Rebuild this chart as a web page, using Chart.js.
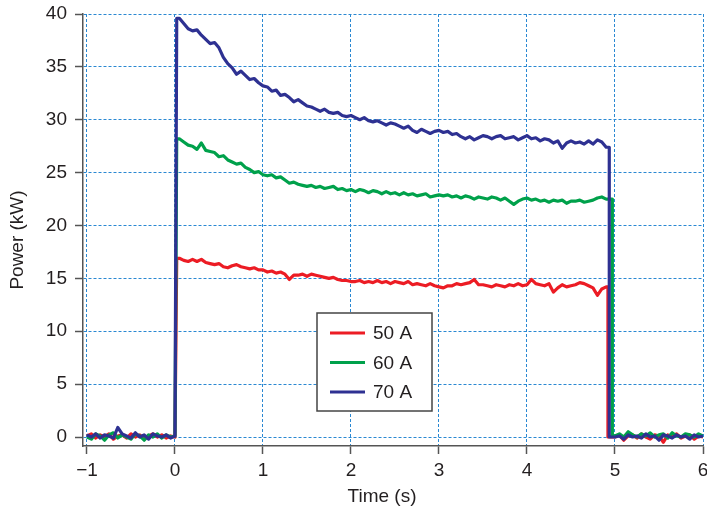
<!DOCTYPE html>
<html>
<head>
<meta charset="utf-8">
<script src="https://cdn.jsdelivr.net/npm/chart.js@4/dist/chart.umd.min.js"></script>
<style>
  html, body { margin: 0; padding: 0; background: #fff; }
</style>
</head>
<body>
<canvas id="power" width="707" height="516"></canvas>
<script>
// sample grid, 50 ms spacing
const steps = (start, n) => Array.from({ length: n }, (_, i) => +(start + i * 0.05).toFixed(2));
const idleBefore = steps(-1, 21);   // -1.00 .. 0.00 s
const arcOn = steps(0.05, 98);      //  0.05 .. 4.90 s
const idleAfter = steps(5, 21);     //  5.00 .. 6.00 s

const xTicks = [-1, 0, 1, 2, 3, 4, 5, 6];
const yTicks = [0, 5, 10, 15, 20, 25, 30, 35, 40];

const riseTime = 0.02;
const labels = ['50 A', '60 A', '70 A'];
const dropTimes = [4.92, 4.97, 4.935];

// power in kW
const pre50 = [0.1, 0.3, -0.1, 0.2, 0.0, 0.3, -0.2, 0.1, 0.2, -0.1, 0.3, 0.0, 0.2, -0.2, 0.1, 0.3, 0.0, 0.2, -0.1, 0.1, 0.0];
const on50 = [
  16.9, 16.7, 16.6, 16.8, 16.6, 16.8, 16.5, 16.4, 16.3, 16.4,
  16.1, 16.0, 16.2, 16.3, 16.1, 16.0, 15.9, 16.0, 15.8, 15.8,
  15.6, 15.7, 15.5, 15.6, 15.4, 14.9, 15.3, 15.3, 15.4, 15.2,
  15.4, 15.3, 15.2, 15.1, 15.0, 15.1, 14.9, 14.8, 14.8, 14.7,
  14.7, 14.8, 14.6, 14.7, 14.6, 14.8, 14.6, 14.7, 14.5, 14.7,
  14.6, 14.5, 14.7, 14.4, 14.5, 14.4, 14.3, 14.5, 14.3, 14.2,
  14.1, 14.3, 14.3, 14.5, 14.4, 14.5, 14.6, 14.9, 14.4, 14.4,
  14.3, 14.2, 14.4, 14.3, 14.2, 14.4, 14.3, 14.5, 14.3, 14.4,
  14.9, 14.5, 14.4, 14.3, 14.5, 13.7, 14.1, 14.4, 14.2, 14.3,
  14.4, 14.6, 14.5, 14.3, 14.1, 13.4, 14.0, 14.2
];
const post50 = [0.0, 0.2, -0.3, 0.1, 0.2, -0.1, 0.3, 0.0, -0.2, 0.2, 0.1, -0.5, 0.2, 0.0, 0.3, -0.1, 0.1, 0.2, -0.2, 0.1, 0.0];

const pre60 = [0.0, -0.2, 0.3, 0.1, -0.3, 0.2, 0.4, -0.1, 0.2, 0.0, -0.2, 0.3, 0.1, -0.3, 0.2, 0.0, 0.3, -0.1, 0.2, 0.0, 0.1];
const on60 = [
  28.2, 27.9, 27.6, 27.5, 27.2, 27.8, 27.1, 27.0, 26.9, 26.5,
  26.6, 26.2, 26.0, 25.8, 25.9, 25.5, 25.3, 25.0, 25.1, 24.8,
  24.7, 24.8, 24.5, 24.6, 24.3, 24.0, 24.1, 23.9, 23.8, 23.7,
  23.8, 23.6, 23.7, 23.5, 23.6, 23.7, 23.4, 23.5, 23.3, 23.4,
  23.2, 23.4, 23.3, 23.1, 23.3, 23.2, 23.0, 23.2, 23.0, 23.1,
  22.9, 23.1, 22.9, 23.0, 22.8, 22.9, 23.0, 22.7, 22.8, 22.9,
  22.8, 22.9, 22.7, 22.8, 22.6, 22.8, 22.7, 22.5, 22.7, 22.6,
  22.5, 22.7, 22.6, 22.4, 22.6, 22.3, 22.0, 22.3, 22.5, 22.6,
  22.4, 22.5, 22.3, 22.4, 22.2, 22.4, 22.3, 22.4, 22.1, 22.3,
  22.3, 22.4, 22.2, 22.3, 22.4, 22.6, 22.7, 22.5
];
const post60 = [0.1, 0.3, 0.0, 0.5, 0.2, 0.0, 0.3, 0.1, 0.4, 0.0, 0.2, 0.3, -0.1, 0.4, 0.1, 0.0, 0.3, 0.2, 0.0, 0.3, 0.1];

const pre70 = [0.2, 0.0, 0.3, -0.1, 0.2, 0.1, -0.1, 0.9, 0.3, 0.1, -0.1, 0.4, 0.0, 0.2, -0.2, 0.3, 0.1, 0.0, 0.2, -0.1, 0.1];
const on70 = [
  39.6, 39.1, 38.6, 38.4, 38.5, 38.0, 37.6, 37.2, 37.3, 36.8,
  35.9, 35.3, 34.9, 34.3, 34.6, 34.2, 33.8, 33.9, 33.5, 33.2,
  33.1, 32.7, 32.8, 32.3, 32.4, 32.1, 31.7, 31.9, 31.6, 31.3,
  31.2, 31.0, 30.8, 31.0, 30.7, 30.6, 30.7, 30.4, 30.3, 30.4,
  30.2, 30.0, 30.2, 29.9, 29.8, 29.9, 29.7, 29.5, 29.7, 29.6,
  29.4, 29.2, 29.4, 29.0, 28.8, 29.1, 28.9, 28.7, 28.9, 29.0,
  28.8, 28.9, 28.6, 28.7, 28.4, 28.2, 28.4, 28.1, 28.3, 28.5,
  28.4, 28.2, 28.4, 28.5, 28.2, 28.3, 28.4, 28.1, 28.3, 28.5,
  28.2, 28.3, 28.0, 28.2, 28.1, 27.8, 28.0, 27.3, 27.8, 28.0,
  27.8, 27.9, 27.7, 28.0, 27.7, 28.1, 27.9, 27.4
];
const post70 = [0.0, 0.1, -0.2, 0.2, 0.0, 0.1, -0.1, 0.3, 0.0, 0.1, -0.3, 0.2, 0.1, -0.1, 0.2, 0.0, 0.1, -0.2, 0.2, 0.0, 0.1];

const colors = ['#ec1c24', '#00a14b', '#2e3192'];
const gridBlue = '#2a88d2';
const axisGrey = '#555';
const textColor = '#231f20';
const font = { family: '"Liberation Sans", Arial, sans-serif', size: 19 };
const fontCss = font.size + 'px ' + font.family;

// one pulse: idle, step up, arc on, step down, idle
function pulse(pre, on, post, drop) {
  const pts = pre.map((y, i) => ({ x: idleBefore[i], y }));
  pts.push({ x: riseTime, y: on[0] });
  on.forEach((y, i) => pts.push({ x: arcOn[i], y }));
  pts.push({ x: drop, y: on[on.length - 1] });
  pts.push({ x: drop, y: post[0] });
  post.forEach((y, i) => pts.push({ x: idleAfter[i], y }));
  return pts;
}

const traces = [
  pulse(pre50, on50, post50, dropTimes[0]),
  pulse(pre60, on60, post60, dropTimes[1]),
  pulse(pre70, on70, post70, dropTimes[2])
];

const legendBox = {
  id: 'legendBox',
  afterDatasetsDraw(chart) {
    const { ctx, chartArea } = chart;
    const x = chartArea.left + 234, y = chartArea.top + 299, w = 115, h = 98;
    ctx.save();
    ctx.fillStyle = '#fff';
    ctx.fillRect(x, y, w, h);
    ctx.strokeStyle = '#444';
    ctx.lineWidth = 1.5;
    ctx.strokeRect(x, y, w, h);
    ctx.font = fontCss;
    ctx.textBaseline = 'middle';
    chart.data.datasets.forEach((ds, i) => {
      const ry = y + 20 + i * 29.5;
      ctx.strokeStyle = ds.borderColor;
      ctx.lineWidth = 2.8;
      ctx.beginPath();
      ctx.moveTo(x + 13, ry);
      ctx.lineTo(x + 48, ry);
      ctx.stroke();
      ctx.fillStyle = textColor;
      ctx.fillText(ds.label, x + 56, ry + 1);
    });
    ctx.restore();
  }
};

// axis titles, placed against the plot frame
const axisTitles = {
  id: 'axisTitles',
  afterDraw(chart) {
    const { ctx, chartArea } = chart;
    ctx.save();
    ctx.font = fontCss;
    ctx.fillStyle = textColor;
    ctx.textAlign = 'center';
    ctx.textBaseline = 'middle';
    ctx.fillText('Time (s)', chartArea.left + 299, chartArea.bottom + 51);
    ctx.translate(18, chartArea.top + 226);
    ctx.rotate(-Math.PI / 2);
    ctx.fillText('Power (kW)', 0, 0);
    ctx.restore();
  }
};

new Chart(document.getElementById('power').getContext('2d'), {
  type: 'line',
  data: {
    datasets: traces.map((pts, i) => ({
      label: labels[i],
      data: pts,
      borderColor: colors[i],
      borderWidth: 3.2,
      borderJoinStyle: 'round',
      pointRadius: 0,
      tension: 0,
      fill: false,
      order: 3 - i
    }))
  },
  options: {
    responsive: false,
    animation: false,
    devicePixelRatio: 1,
    layout: { padding: { top: 14, right: 4, left: 0, bottom: 0 } },
    plugins: { legend: { display: false }, tooltip: { enabled: false } },
    scales: {
      x: {
        type: 'linear',
        min: -1.045,
        max: 6,
        afterBuildTicks: s => { s.ticks = xTicks.map(v => ({ value: v })); },
        afterFit: s => { s.height = 70; s.paddingLeft = 0; s.paddingRight = 0; },
        ticks: {
          font, color: textColor, padding: 5, maxRotation: 0, autoSkip: false,
          callback: v => (v < 0 ? '\u2212' + Math.abs(v) : String(v))
        },
        grid: { color: gridBlue, lineWidth: 1, tickLength: 8, tickColor: axisGrey, tickWidth: 1.5 },
        border: { display: true, color: axisGrey, width: 1.5, dash: [3, 2] }
      },
      y: {
        min: -0.85,
        max: 40,
        afterBuildTicks: s => { s.ticks = yTicks.map(v => ({ value: v })); },
        afterFit: s => { s.width = 83; s.paddingTop = 0; s.paddingBottom = 0; },
        ticks: { font, color: textColor, padding: 8 },
        grid: { color: gridBlue, lineWidth: 1, tickLength: 8, tickColor: axisGrey, tickWidth: 1.5 },
        border: { display: true, color: axisGrey, width: 1.5, dash: [3, 2] }
      }
    }
  },
  plugins: [legendBox, axisTitles]
});
</script>
</body>
</html>
